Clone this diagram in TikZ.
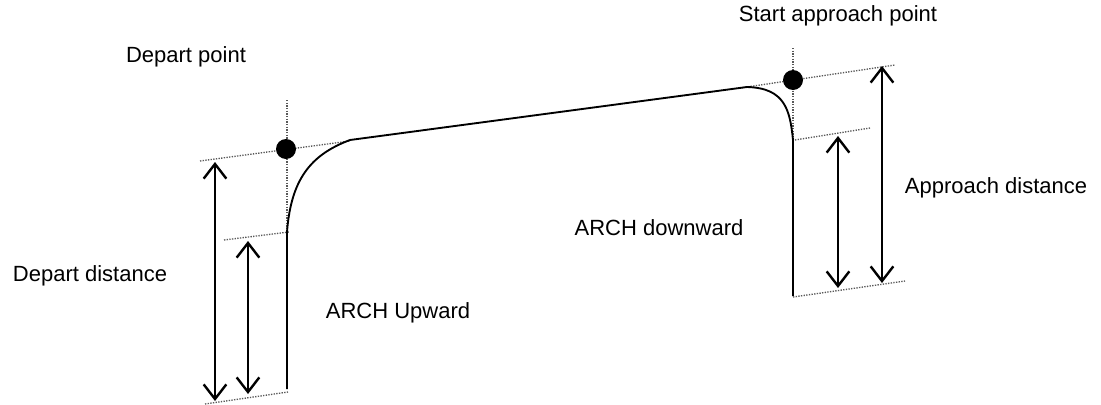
\documentclass[tikz,border=0pt]{standalone}
\usepackage{fontspec}
\setmainfont{Liberation Sans}
\usetikzlibrary{arrows.meta}

\begin{document}
\begin{tikzpicture}[x=0.75pt,y=0.75pt,yscale=-1,xscale=1,
  guide/.style={densely dotted,line width=1pt,gray!70!black},
  path/.style={line width=1.4pt},
  dim/.style={line width=1.8pt,{Straight Barb[length=11pt,width=17pt]}-{Straight Barb[length=11pt,width=17pt]}},
  lbl/.style={font=\fontsize{16.5}{19}\selectfont}]
\useasboundingbox (0,0) rectangle (1101,404);

% guide lines
\draw[guide] (287,100) -- (287,236);
\draw[guide] (200,161) -- (350,141);
\draw[guide] (224,240) -- (289,232);
\draw[guide] (205,404) -- (288,392);
\draw[guide] (793,48) -- (793,140);
\draw[guide] (740,88) -- (895,65);
\draw[guide] (795,140) -- (870,128);
\draw[guide] (793,297) -- (905,281);

% flight path
\coordinate (lowA) at (287,389);
\coordinate (upA) at (287,232);
\coordinate (topA) at (350,140);
\coordinate (topB) at (747,87);
\coordinate (upB) at (793,140);
\coordinate (lowB) at (793,296);
\draw[path] (lowA) -- (upA) .. controls (291,180) and (310,155) .. (topA) -- (topB)
  .. controls (785,88) and (790,110) .. (upB) -- (lowB);

% points
\node[circle,fill=black,inner sep=0pt,minimum size=15pt] (depart) at (286,149) {};
\node[circle,fill=black,inner sep=0pt,minimum size=15pt] (approach) at (793,80) {};

% distances
\coordinate (dA1) at (215,162);
\coordinate (dA2) at (215,401);
\coordinate (dB1) at (248,241);
\coordinate (dB2) at (248,394);
\coordinate (dC1) at (838,136);
\coordinate (dC2) at (838,288);
\coordinate (dD1) at (882,66);
\coordinate (dD2) at (882,283);
\draw[dim] (dA1) -- (dA2);
\draw[dim] (dB1) -- (dB2);
\draw[dim] (dC1) -- (dC2);
\draw[dim] (dD1) -- (dD2);

% labels
\node[lbl] (tDepart) at (186,57) {Depart point};
\node[lbl] (tStart) at (838,16) {Start approach point};
\node[lbl] (tAppr) at (996,188) {Approach distance};
\node[lbl] (tDown) at (659,228) {ARCH downward};
\node[lbl] (tDist) at (90,276) {Depart distance};
\node[lbl] (tUp) at (398,313) {ARCH Upward};
\end{tikzpicture}
\end{document}
